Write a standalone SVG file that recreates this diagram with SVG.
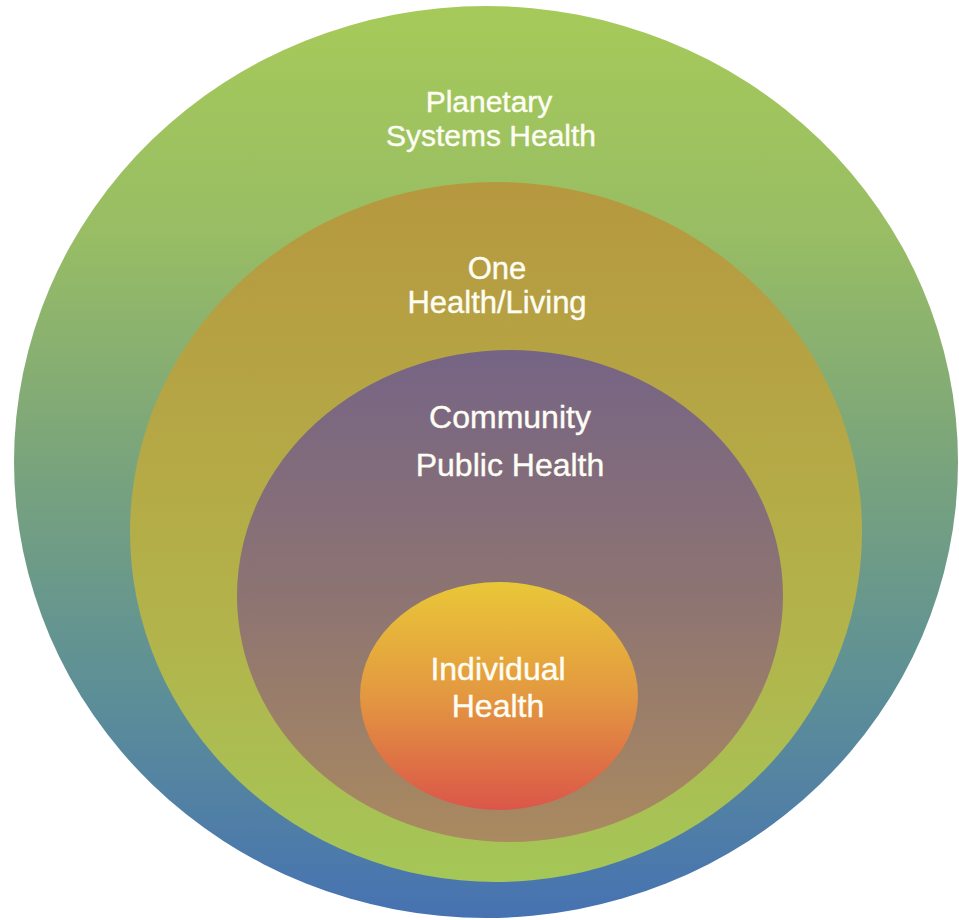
<svg xmlns="http://www.w3.org/2000/svg" width="959" height="920" viewBox="0 0 959 920">
<defs>
<linearGradient id="gOuter" x1="0" y1="0" x2="0" y2="1">
<stop offset="0" stop-color="#a6ca59"/>
<stop offset="0.25" stop-color="#98bd64"/>
<stop offset="0.5" stop-color="#7aa47c"/>
<stop offset="0.75" stop-color="#5d8f97"/>
<stop offset="1" stop-color="#4672b2"/>
</linearGradient>
<linearGradient id="gOne" x1="0" y1="0" x2="0" y2="1">
<stop offset="0" stop-color="#b6983f"/>
<stop offset="0.35" stop-color="#b5a745"/>
<stop offset="0.65" stop-color="#b2b44b"/>
<stop offset="1" stop-color="#a4c758"/>
</linearGradient>
<linearGradient id="gComm" x1="0" y1="0" x2="0" y2="1">
<stop offset="0" stop-color="#766485"/>
<stop offset="0.5" stop-color="#8d7472"/>
<stop offset="1" stop-color="#aa8a5f"/>
</linearGradient>
<linearGradient id="gInd" x1="0" y1="0" x2="0" y2="1">
<stop offset="0" stop-color="#e9c738"/>
<stop offset="0.5" stop-color="#e39840"/>
<stop offset="1" stop-color="#db5649"/>
</linearGradient>
</defs>
<style>
.lbl { font-family: "Liberation Sans", Arial, sans-serif; fill: #fdfdf3; stroke: #fdfdf3; stroke-width: 0.4; text-anchor: middle; }
</style>
<g id="planetary">
<ellipse cx="486" cy="462" rx="472" ry="456" fill="url(#gOuter)"/>
<text class="lbl" x="489" y="112" font-size="30">Planetary</text>
<text class="lbl" x="491" y="146" font-size="30">Systems Health</text>
</g>
<g id="one-health">
<ellipse cx="496" cy="532" rx="366" ry="350" fill="url(#gOne)"/>
<text class="lbl" x="497" y="279" font-size="31">One</text>
<text class="lbl" x="497" y="313" font-size="31">Health/Living</text>
</g>
<g id="community">
<ellipse cx="510" cy="596" rx="273" ry="246" fill="url(#gComm)"/>
<text class="lbl" x="510" y="428" font-size="32">Community</text>
<text class="lbl" x="510" y="476" font-size="32">Public Health</text>
</g>
<g id="individual">
<ellipse cx="499" cy="696" rx="139" ry="114" fill="url(#gInd)"/>
<text class="lbl" x="498" y="680" font-size="32">Individual</text>
<text class="lbl" x="498" y="717" font-size="32">Health</text>
</g>
<g id="connectors"/>
</svg>
